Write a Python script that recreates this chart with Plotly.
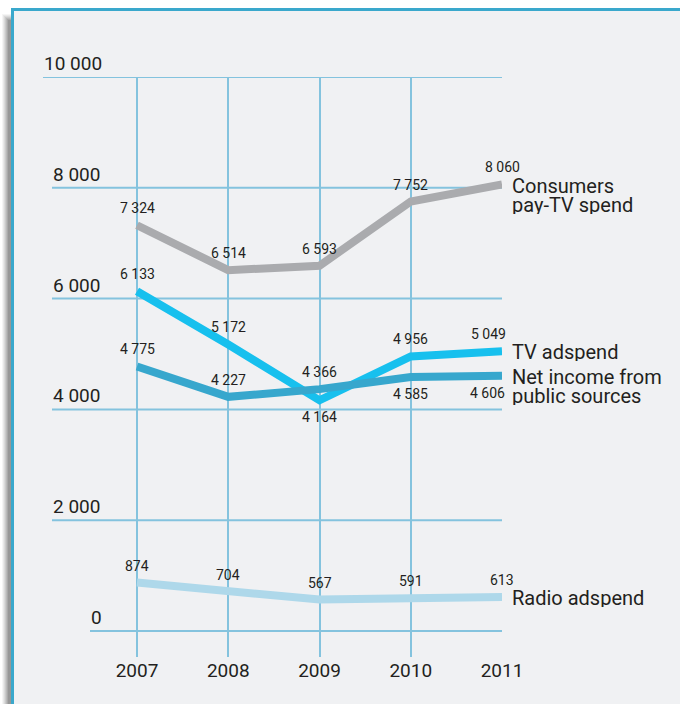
import plotly.graph_objects as go

# data
years = [2007, 2008, 2009, 2010, 2011]
consumers_paytv = [7324, 6514, 6593, 7752, 8060]
tv_adspend = [6133, 5172, 4164, 4956, 5049]
net_income_public = [4775, 4227, 4366, 4585, 4606]
radio_adspend = [874, 704, 567, 591, 613]
y_ticks = [0, 2000, 4000, 6000, 8000, 10000]
y_tick_labels = ["0", "2 000", "4 000", "6 000", "8 000", "10 000"]

W, H = 680, 704
# plot area in pixels
L, R, T, B = 43, 502, 77, 657
X0 = 2007 - (137 - L) / 91.25
Y0 = -469
FONT = "Liberation Sans Narrow, Roboto, sans-serif"
GRID = "#84C3DE"


def px(x):
    return (x - L) / (R - L)


def py(y):
    return (B - y) / (B - T)


def fmt(v):
    return f"{v:,}".replace(",", " ")


series = [
    # name, values, colour, label side (+1 above, -1 below), end label lines
    ("Consumers", consumers_paytv, "#AAABAE", [1, 1, 1, 1, 1], ["Consumers", "pay-TV spend"], -1),
    ("TV", tv_adspend, "#17C0EE", [1, 1, -1, 1, 1], ["TV adspend"], 0),
    ("Net", net_income_public, "#37A7CD", [1, 1, 1, -1, -1], ["Net income from", "public sources"], -1),
    ("Radio", radio_adspend, "#AED8EA", [1, 1, 1, 1, 1], ["Radio adspend"], 0),
]
label_xshift = {("TV", 2011): -14, ("Net", 2011): -15}

fig = go.Figure()
annotations = []
shapes = []

# shadow + frame
for i, op in enumerate([0.04, 0.05, 0.06, 0.07, 0.08, 0.09, 0.10]):
    shapes.append(dict(type="rect", xref="paper", yref="paper",
                       x0=px(2 + i), x1=px(12), y0=py(720), y1=py(14 + i),
                       fillcolor=f"rgba(0,0,0,{op})", line_width=0, layer="below"))
shapes.append(dict(type="rect", xref="paper", yref="paper",
                   x0=px(12.5), x1=px(700), y0=py(720), y1=py(9.5),
                   fillcolor="#F0F1F3", line=dict(color="#3AA8CC", width=3), layer="below"))

# horizontal gridlines starting at the left of their labels
starts = {0: 90, 2000: 52, 4000: 52, 6000: 52, 8000: 52, 10000: 43}
for v, lab in zip(y_ticks, y_tick_labels):
    shapes.append(dict(type="line", xref="paper", yref="y", x0=px(starts[v]), x1=1,
                       y0=v, y1=v, line=dict(color=GRID, width=2), layer="below"))
    annotations.append(dict(xref="paper", x=px(starts[v] - 1), y=v, text=lab, showarrow=False,
                            xanchor="left", yanchor="bottom", yshift=0,
                            font=dict(size=19, color="#231F20", family=FONT)))

for name, vals, col, sides, end_lines, end_shift in series:
    fig.add_trace(go.Scatter(x=years, y=vals, mode="lines", name=name,
                             line=dict(color=col, width=8), showlegend=False,
                             hoverinfo="skip"))
    for yr, v, s in zip(years, vals, sides):
        annotations.append(dict(x=yr, y=v, text=fmt(v), showarrow=False,
                                yshift=17 * s, xshift=label_xshift.get((name, yr), 0),
                                font=dict(size=14, color="#231F20", family=FONT)))
    for k, line in enumerate(end_lines):
        annotations.append(dict(x=years[-1], y=vals[-1], text=line, showarrow=False,
                                xanchor="left", align="left", xshift=8,
                                yshift=end_shift - 19 * k, height=19, valign="middle",
                                font=dict(size=20, color="#231F20", family=FONT)))

fig.update_layout(
    width=W, height=H,
    margin=dict(l=L, r=W - R, t=T, b=H - B, pad=0),
    paper_bgcolor="white", plot_bgcolor="rgba(0,0,0,0)",
    shapes=shapes, annotations=annotations,
    xaxis=dict(range=[X0, 2011], tickvals=years, ticktext=[str(y) for y in years],
               showgrid=True, gridcolor=GRID, gridwidth=2, zeroline=False,
               showline=False, ticks="", ticklabelstandoff=0,
               tickfont=dict(size=19, color="#231F20", family=FONT), fixedrange=True),
    yaxis=dict(range=[Y0, 10000], showgrid=False, zeroline=False, showticklabels=False,
               showline=False, fixedrange=True),
    showlegend=False,
)

fig.write_html("out.html", config={"displayModeBar": False},
               post_script="document.body.style.margin='0';document.body.style.overflow='hidden';")
